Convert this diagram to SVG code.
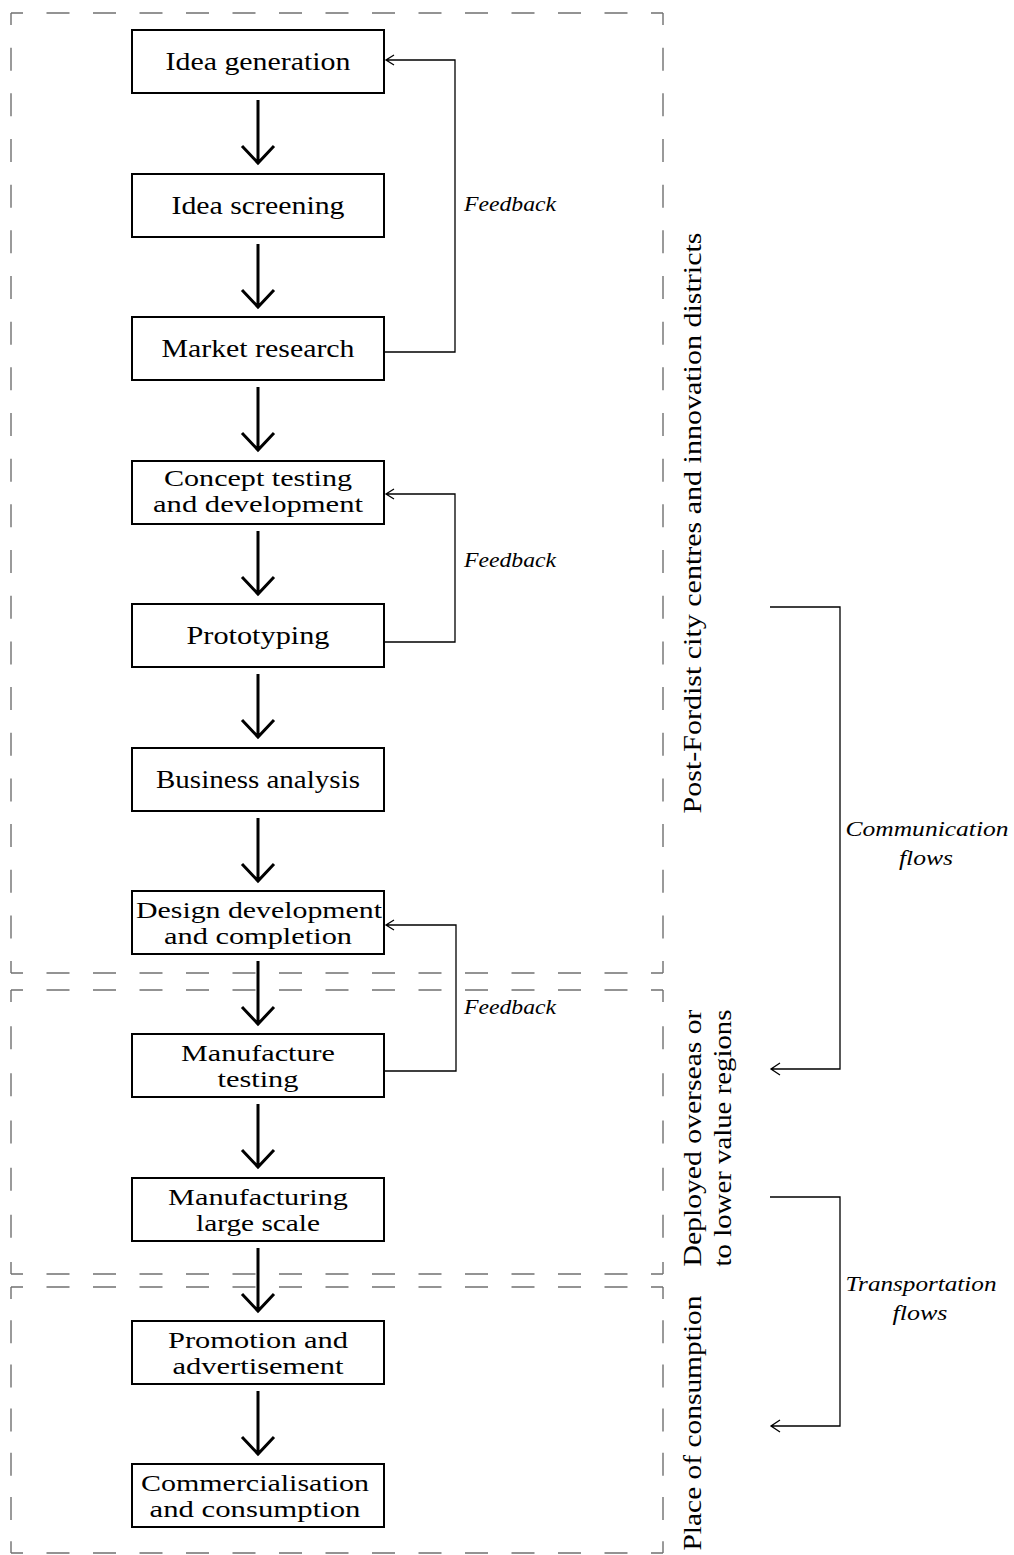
<svg xmlns="http://www.w3.org/2000/svg" width="1014" height="1555" viewBox="0 0 1014 1555">
  <style>
    .zone { stroke: #707070; stroke-width: 1.4; fill: none; stroke-dashoffset: 11; }
    .zh { stroke-dasharray: 23 23.5; }
    .zv1 { stroke-dasharray: 23 22.67; }
    .zv2 { stroke-dasharray: 23 24.17; }
    .zv3 { stroke-dasharray: 23 21.2; }
    .box { fill: #ffffff; stroke: #000000; stroke-width: 2; }
    .lbl { font-family: "Liberation Serif", "Times New Roman", serif; font-size: 26px; fill: #000000; text-anchor: middle; }
    .lbl2 { font-family: "Liberation Serif", "Times New Roman", serif; font-size: 24px; fill: #000000; text-anchor: middle; }
    .side { font-family: "Liberation Serif", "Times New Roman", serif; font-size: 26px; fill: #000000; text-anchor: middle; }
    .ital { font-family: "Liberation Serif", "Times New Roman", serif; font-size: 22px; font-style: italic; fill: #000000; }
    .flow { stroke: #000000; stroke-width: 3; fill: none; }
    .thin { stroke: #000000; stroke-width: 1.3; fill: none; }
  </style>

  <!-- dashed location zones: each side starts and ends on a short corner dash -->
  <g id="zones">
    <g id="zone-city">
      <line class="zone zh" x1="11" y1="13" x2="663" y2="13"/>
      <line class="zone zv1" x1="11" y1="13" x2="11" y2="973"/>
      <line class="zone zv1" x1="663" y1="13" x2="663" y2="973"/>
      <line class="zone zh" x1="11" y1="973" x2="663" y2="973"/>
    </g>
    <g id="zone-overseas">
      <line class="zone zh" x1="11" y1="990" x2="663" y2="990"/>
      <line class="zone zv2" x1="11" y1="990" x2="11" y2="1274"/>
      <line class="zone zv2" x1="663" y1="990" x2="663" y2="1274"/>
      <line class="zone zh" x1="11" y1="1274" x2="663" y2="1274"/>
    </g>
    <g id="zone-consumption">
      <line class="zone zh" x1="11" y1="1287" x2="663" y2="1287"/>
      <line class="zone zv3" x1="11" y1="1287" x2="11" y2="1553"/>
      <line class="zone zv3" x1="663" y1="1287" x2="663" y2="1553"/>
      <line class="zone zh" x1="11" y1="1553" x2="663" y2="1553"/>
    </g>
  </g>

  <!-- connectors -->
  <g id="connectors">
    <!-- main process arrows -->
    <g id="main-flow">
      <path class="flow" d="M258 100 V163 M242 146 L258 163 L274 146"/>
      <path class="flow" d="M258 244 V307 M242 290 L258 307 L274 290"/>
      <path class="flow" d="M258 387 V450 M242 433 L258 450 L274 433"/>
      <path class="flow" d="M258 531 V594 M242 577 L258 594 L274 577"/>
      <path class="flow" d="M258 674 V737 M242 720 L258 737 L274 720"/>
      <path class="flow" d="M258 818 V881 M242 864 L258 881 L274 864"/>
      <path class="flow" d="M258 961 V1024 M242 1007 L258 1024 L274 1007"/>
      <path class="flow" d="M258 1104 V1167 M242 1150 L258 1167 L274 1150"/>
      <path class="flow" d="M258 1248 V1311 M242 1294 L258 1311 L274 1294"/>
      <path class="flow" d="M258 1391 V1454 M242 1437 L258 1454 L274 1437"/>
    </g>
    <!-- feedback loops -->
    <g id="feedback">
      <path class="thin" d="M384 352 H455 V60 H386 M394 55 L386 60 L394 65"/>
      <path class="thin" d="M384 642 H455 V494 H386 M394 489 L386 494 L394 499"/>
      <path class="thin" d="M384 1071 H456 V925 H386 M394 920 L386 925 L394 930"/>
    </g>
    <!-- flow brackets -->
    <g id="brackets">
      <path class="thin" d="M770 607 H840 V1069 H771 M780 1063 L771 1069 L780 1075"/>
      <path class="thin" d="M770 1197 H840 V1426 H771 M780 1420 L771 1426 L780 1432"/>
    </g>
  </g>

  <!-- process steps -->
  <g id="n1"><rect class="box" x="132" y="30" width="252" height="63"/><text class="lbl" x="258" y="70" textLength="185" lengthAdjust="spacingAndGlyphs">Idea generation</text></g>
  <g id="n2"><rect class="box" x="132" y="174" width="252" height="63"/><text class="lbl" x="258" y="214" textLength="173" lengthAdjust="spacingAndGlyphs">Idea screening</text></g>
  <g id="n3"><rect class="box" x="132" y="317" width="252" height="63"/><text class="lbl" x="258" y="357" textLength="193" lengthAdjust="spacingAndGlyphs">Market research</text></g>
  <g id="n4"><rect class="box" x="132" y="461" width="252" height="63"/>
    <text class="lbl2" x="258" y="486" textLength="188" lengthAdjust="spacingAndGlyphs">Concept testing</text>
    <text class="lbl2" x="258" y="512" textLength="210" lengthAdjust="spacingAndGlyphs">and development</text></g>
  <g id="n5"><rect class="box" x="132" y="604" width="252" height="63"/><text class="lbl" x="258" y="644" textLength="143" lengthAdjust="spacingAndGlyphs">Prototyping</text></g>
  <g id="n6"><rect class="box" x="132" y="748" width="252" height="63"/><text class="lbl" x="258" y="788" textLength="204" lengthAdjust="spacingAndGlyphs">Business analysis</text></g>
  <g id="n7"><rect class="box" x="132" y="891" width="252" height="63"/>
    <text class="lbl2" x="259" y="918" textLength="246" lengthAdjust="spacingAndGlyphs">Design development</text>
    <text class="lbl2" x="258" y="944" textLength="188" lengthAdjust="spacingAndGlyphs">and completion</text></g>
  <g id="n8"><rect class="box" x="132" y="1034" width="252" height="63"/>
    <text class="lbl2" x="258" y="1061" textLength="154" lengthAdjust="spacingAndGlyphs">Manufacture</text>
    <text class="lbl2" x="258" y="1087" textLength="81" lengthAdjust="spacingAndGlyphs">testing</text></g>
  <g id="n9"><rect class="box" x="132" y="1178" width="252" height="63"/>
    <text class="lbl2" x="258" y="1205" textLength="180" lengthAdjust="spacingAndGlyphs">Manufacturing</text>
    <text class="lbl2" x="258" y="1231" textLength="124" lengthAdjust="spacingAndGlyphs">large scale</text></g>
  <g id="n10"><rect class="box" x="132" y="1321" width="252" height="63"/>
    <text class="lbl2" x="258" y="1348" textLength="180" lengthAdjust="spacingAndGlyphs">Promotion and</text>
    <text class="lbl2" x="258" y="1374" textLength="171" lengthAdjust="spacingAndGlyphs">advertisement</text></g>
  <g id="n11"><rect class="box" x="132" y="1464" width="252" height="63"/>
    <text class="lbl2" x="255" y="1491" textLength="228" lengthAdjust="spacingAndGlyphs">Commercialisation</text>
    <text class="lbl2" x="255" y="1517" textLength="211" lengthAdjust="spacingAndGlyphs">and consumption</text></g>

  <!-- feedback labels -->
  <g id="feedback-labels">
    <text class="ital" x="464" y="211" textLength="92" lengthAdjust="spacingAndGlyphs">Feedback</text>
    <text class="ital" x="464" y="567" textLength="92" lengthAdjust="spacingAndGlyphs">Feedback</text>
    <text class="ital" x="464" y="1014" textLength="92" lengthAdjust="spacingAndGlyphs">Feedback</text>
  </g>

  <!-- zone labels -->
  <g id="zone-labels">
    <text class="side" transform="translate(701 523) rotate(-90)" textLength="581" lengthAdjust="spacingAndGlyphs">Post-Fordist city centres and innovation districts</text>
    <text class="side" transform="translate(701 1138) rotate(-90)" textLength="257" lengthAdjust="spacingAndGlyphs">Deployed overseas or</text>
    <text class="side" transform="translate(731 1138) rotate(-90)" textLength="257" lengthAdjust="spacingAndGlyphs">to lower value regions</text>
    <text class="side" transform="translate(701 1423) rotate(-90)" textLength="255" lengthAdjust="spacingAndGlyphs">Place of consumption</text>
  </g>

  <!-- flow labels -->
  <g id="flow-labels">
    <text class="ital" x="927" y="836" text-anchor="middle" textLength="163" lengthAdjust="spacingAndGlyphs">Communication</text>
    <text class="ital" x="926" y="865" text-anchor="middle" textLength="54" lengthAdjust="spacingAndGlyphs">flows</text>
    <text class="ital" x="921" y="1291" text-anchor="middle" textLength="151" lengthAdjust="spacingAndGlyphs">Transportation</text>
    <text class="ital" x="920" y="1320" text-anchor="middle" textLength="55" lengthAdjust="spacingAndGlyphs">flows</text>
  </g>
</svg>
